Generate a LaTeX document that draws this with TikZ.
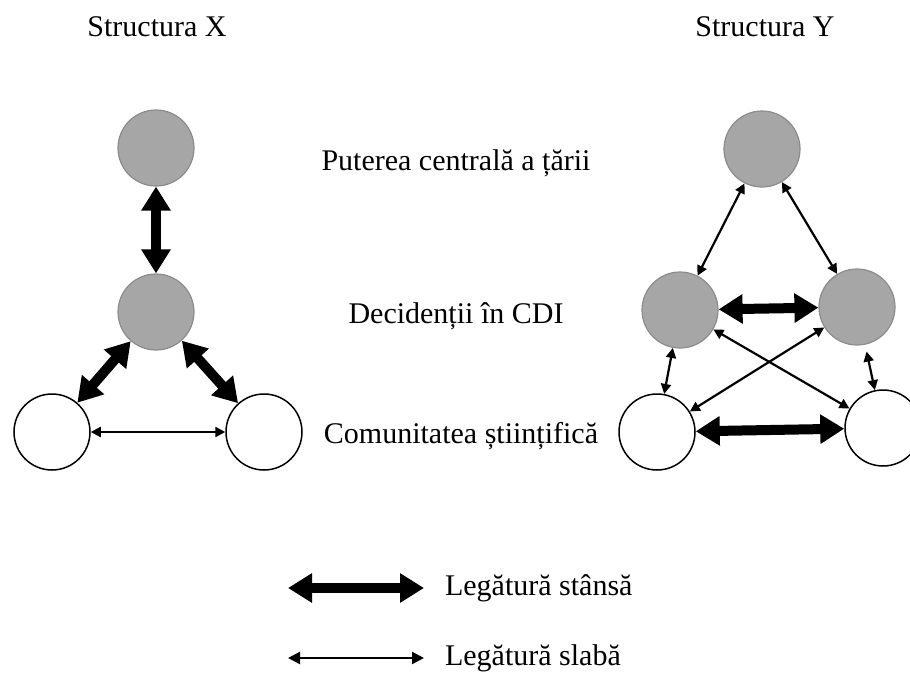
\documentclass[tikz,border=0pt]{standalone}
\usepackage{fontspec}
\setmainfont{Liberation Serif}
\usetikzlibrary{arrows.meta}
\usetikzlibrary{positioning}

\definecolor{fillgrey}{HTML}{A6A6A6}
\definecolor{linegrey}{HTML}{8C8C8C}

\begin{document}
\begin{tikzpicture}[x=0.5pt,y=-0.5pt,
  every node/.style={font=\fontsize{15}{18}\selectfont},
  dark/.style={circle,draw=linegrey,fill=fillgrey,line width=0.6pt,inner sep=0pt,minimum size=38pt},
  light/.style={circle,draw=black,fill=white,line width=0.75pt,inner sep=0pt,minimum size=38pt},
  strong/.style={line width=5pt,>={Triangle[width=14pt,length=12pt]},<->},
  weak/.style={line width=1.1pt,>={Triangle[width=5pt,length=5pt]},<->}]
  \useasboundingbox (0,0) rectangle (910,675);

  % structura X
  \node (tx) at (157,27) {Structura X};
  \node[dark] (1) at (156,148) {};
  \node[dark] (2) at (156,312) {};
  \node[light] (3) at (52,432) {};
  \node[light] (4) at (264,432) {};

  % structura Y
  \node (ty) at (765,27) {Structura Y};
  \node[dark] (5) at (762,149) {};
  \node[dark] (6) at (680,310) {};
  \node[dark] (7) at (857,307) {};
  \node[light] (8) at (657,432) {};
  \node[light] (9) at (883,428) {};

  % niveluri
  \node (n1) at (456,163) {Puterea centrală a țării};
  \node (n2) at (456,316) {Decidenții în CDI};
  \node (n3) at (461,436) {Comunitatea științifică};

  \draw[strong](1)--(2);
  \draw[strong](2)--(3);
  \draw[strong](2)--(4);
  \draw[weak](3)--(4);

  \draw[weak](5)--(6);
  \draw[weak](5)--(7);
  \draw[strong](6)--(7);
  \draw[weak](6)--(8);
  \draw[weak](7)--(8);
  \draw[weak](6)--(9);
  \draw[weak,shorten <=3.5pt](7)--(9);
  \draw[strong](8)--(9);

  % legenda
  \coordinate (a1) at (288,588);
  \coordinate (a2) at (424,588);
  \coordinate (b1) at (288,658);
  \coordinate (b2) at (424,658);
  \draw[strong](a1)--(a2);
  \draw[weak,>={Triangle[width=6pt,length=6pt]}](b1)--(b2);
  \node[right=7pt of a2] (l1) {Legătură stânsă};
  \node[right=7pt of b2] (l2) {Legătură slabă};
\end{tikzpicture}
\end{document}
